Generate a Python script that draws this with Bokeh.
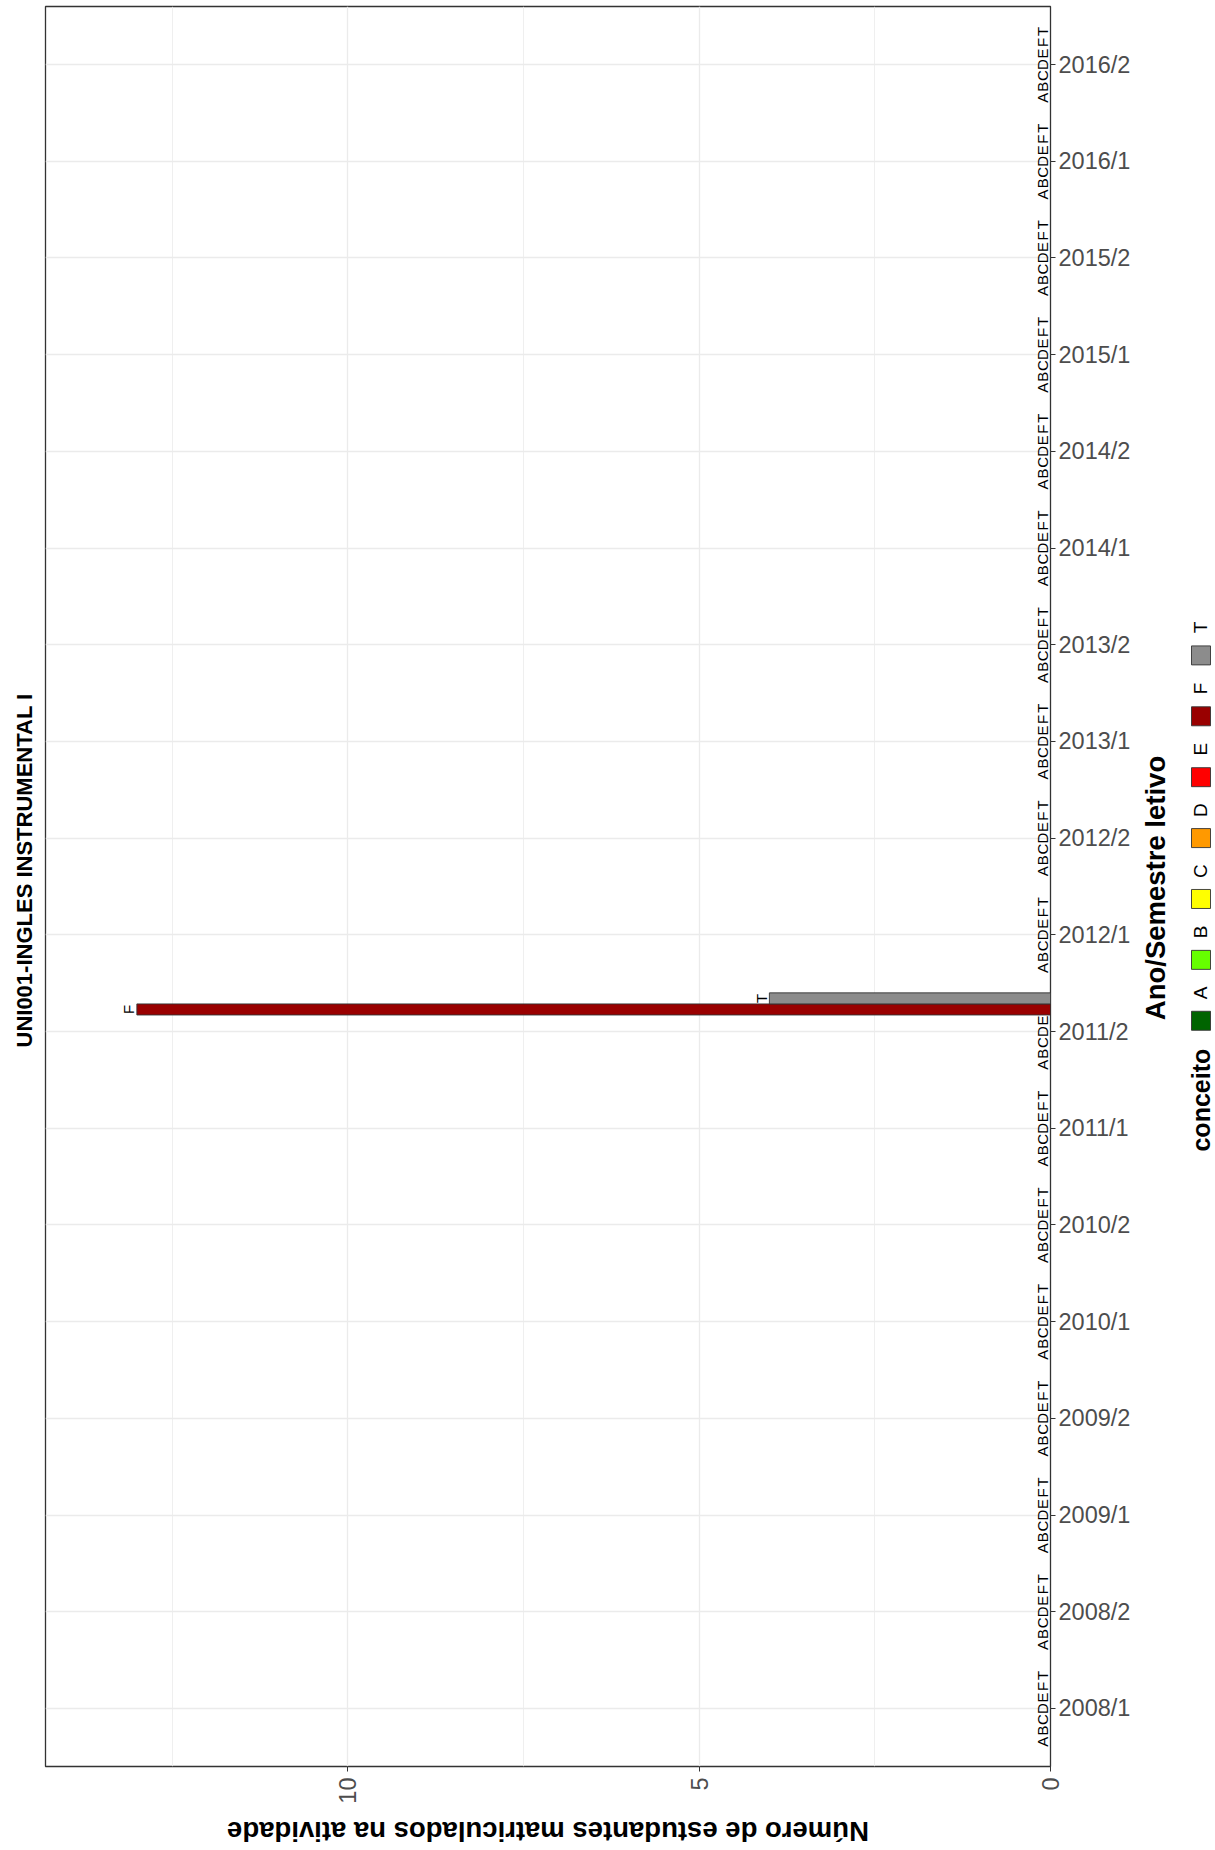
import math
from bokeh.plotting import figure
from bokeh.models import FactorRange, Range1d, FixedTicker, ColumnDataSource
from bokeh.transform import dodge
from bokeh.layouts import row, column
from bokeh.core.properties import value
from bokeh.embed import file_html
from bokeh.resources import INLINE

FONT = "Liberation Sans"

titulo = "UNI001-INGLES INSTRUMENTAL I"
eixo_x = "Ano/Semestre letivo"
eixo_y = "Número de estudantes matriculados na atividade"
legenda_titulo = "conceito"

semestres = ["2008/1", "2008/2", "2009/1", "2009/2", "2010/1", "2010/2",
             "2011/1", "2011/2", "2012/1", "2012/2", "2013/1", "2013/2",
             "2014/1", "2014/2", "2015/1", "2015/2", "2016/1", "2016/2"]
conceitos = ["A", "B", "C", "D", "E", "F", "T"]
cores = ["#006400", "#66FF00", "#FFFF00", "#FF9900", "#FF0000", "#990000", "#8C8C8C"]

contagem_A = [0, 0, 0, 0, 0, 0, 0, 0, 0, 0, 0, 0, 0, 0, 0, 0, 0, 0]
contagem_B = [0, 0, 0, 0, 0, 0, 0, 0, 0, 0, 0, 0, 0, 0, 0, 0, 0, 0]
contagem_C = [0, 0, 0, 0, 0, 0, 0, 0, 0, 0, 0, 0, 0, 0, 0, 0, 0, 0]
contagem_D = [0, 0, 0, 0, 0, 0, 0, 0, 0, 0, 0, 0, 0, 0, 0, 0, 0, 0]
contagem_E = [0, 0, 0, 0, 0, 0, 0, 0, 0, 0, 0, 0, 0, 0, 0, 0, 0, 0]
contagem_F = [0, 0, 0, 0, 0, 0, 0, 13, 0, 0, 0, 0, 0, 0, 0, 0, 0, 0]
contagem_T = [0, 0, 0, 0, 0, 0, 0, 4, 0, 0, 0, 0, 0, 0, 0, 0, 0, 0]
contagens = [contagem_A, contagem_B, contagem_C, contagem_D, contagem_E, contagem_F, contagem_T]

y_max = max(max(c) for c in contagens) * 1.1

BL, BR, BT, BB = 45, 86, 6, 37
H_MAIN = 1806
H_BOT = 44
W_MAIN = 1136
W_LEG = 79

p = figure(width=W_MAIN, height=H_MAIN, output_backend="svg", toolbar_location=None,
           x_range=Range1d(start=y_max, end=0),
           y_range=FactorRange(factors=semestres, range_padding=0.1,
                               range_padding_units="absolute"),
           y_axis_location="right",
           title=titulo, title_location="left",
           min_border_left=BL, min_border_right=BR, min_border_top=BT,
           min_border_bottom=BB)

p.background_fill_color = "white"
p.border_fill_color = "white"
p.outline_line_color = "#333333"
p.outline_line_width = 1.3

p.title.align = "left"
p.title.standoff = 17
p.title.offset = 719
p.title.text_font = FONT
p.title.text_font_size = "22px"
p.title.text_font_style = "bold"
p.title.text_color = "black"

slot = 0.8 / len(conceitos)
for k, (c, cor, vals) in enumerate(zip(conceitos, cores, contagens)):
    src = ColumnDataSource(dict(sem=semestres, n=vals, lab=[c] * len(semestres)))
    off = (k - (len(conceitos) - 1) / 2) * slot
    ypos = dodge("sem", off, range=p.y_range)
    p.hbar(y=ypos, left=0, right="n", height=slot, source=src,
           fill_color=cor, line_color="#333333", line_width=0.9)
    p.text(x="n", y=ypos, text="lab", source=src, angle=math.pi / 2,
           text_align="center", text_baseline="alphabetic", x_offset=-8,
           text_font=value(FONT), text_font_size="15px", text_color="black")

# count axis (bottom)
xa = p.xaxis[0]
xa.ticker = FixedTicker(ticks=[0, 5, 10], minor_ticks=[2.5, 7.5, 12.5])
xa.major_label_orientation = math.pi / 2
xa.major_label_standoff = 6
xa.major_label_text_font = FONT
xa.major_label_text_font_size = "23.5px"
xa.major_label_text_color = "#4D4D4D"
xa.major_tick_line_color = "#333333"
xa.major_tick_out = 5
xa.major_tick_in = 0
xa.minor_tick_line_color = None
xa.axis_line_color = None

# category axis (right)
ya = p.yaxis[0]
ya.major_label_standoff = 3
ya.major_label_text_font = FONT
ya.major_label_text_font_size = "23.5px"
ya.major_label_text_color = "#4D4D4D"
ya.major_tick_line_color = "#333333"
ya.major_tick_out = 5
ya.major_tick_in = 0
ya.minor_tick_line_color = None
ya.axis_line_color = None

p.xgrid.grid_line_color = "#EBEBEB"
p.xgrid.grid_line_width = 1.3
p.xgrid.minor_grid_line_color = "#EBEBEB"
p.xgrid.minor_grid_line_width = 0.8
p.ygrid.grid_line_color = "#EBEBEB"
p.ygrid.grid_line_width = 1.3

# side panel: category axis title + rotated legend (frame aligned with main frame)
half = 881.5
leg = figure(width=W_LEG, height=H_MAIN, output_backend="svg", toolbar_location=None,
             x_range=Range1d(0, W_LEG), y_range=Range1d(-half, half),
             x_axis_type=None, y_axis_type=None,
             min_border_left=0, min_border_right=0, min_border_top=BT,
             min_border_bottom=BB)
leg.outline_line_color = None
leg.grid.visible = False
leg.background_fill_color = "white"
leg.border_fill_color = "white"

leg.text(x=[19], y=[-1.5], text=[eixo_x], angle=math.pi / 2,
         text_align="center", text_baseline="middle",
         text_font=value(FONT), text_font_size="27.5px", text_font_style="bold",
         text_color="black")

step = 61.0
key_x = 64.5
key_y0 = -134.5
key_ys = [key_y0 + step * k for k in range(len(conceitos))]
lab_ys = [y + 28 for y in key_ys]
leg.rect(x=[key_x] * len(conceitos), y=key_ys, width=19, height=19,
         width_units="screen", height_units="screen",
         fill_color=cores, line_color="#333333", line_width=0.9)
leg.text(x=[key_x - 1] * len(conceitos), y=lab_ys, text=conceitos, angle=math.pi / 2,
         text_align="center", text_baseline="middle",
         text_font=value(FONT), text_font_size="19px", text_color="black")
leg.text(x=[key_x], y=[-214], text=[legenda_titulo], angle=math.pi / 2,
         text_align="center", text_baseline="middle",
         text_font=value(FONT), text_font_size="25px", text_font_style="bold",
         text_color="black")

# bottom strip: count-axis title, upside down, centred under the frame
bot = figure(width=W_MAIN, height=H_BOT, output_backend="svg", toolbar_location=None,
             x_range=p.x_range, y_range=Range1d(H_BOT, 0),
             x_axis_type=None, y_axis_type=None,
             min_border_left=BL, min_border_right=BR, min_border_top=0,
             min_border_bottom=0)
bot.outline_line_color = None
bot.grid.visible = False
bot.background_fill_color = "white"
bot.border_fill_color = "white"
bot.text(x=[y_max / 2], y=[25], text=[eixo_y], angle=math.pi,
         text_align="center", text_baseline="middle",
         text_font=value(FONT), text_font_size="27.5px", text_font_style="bold",
         text_color="black")

layout = column(row(p, leg, spacing=0), bot, spacing=0)
open("out.html", "w").write(file_html(layout, INLINE))
